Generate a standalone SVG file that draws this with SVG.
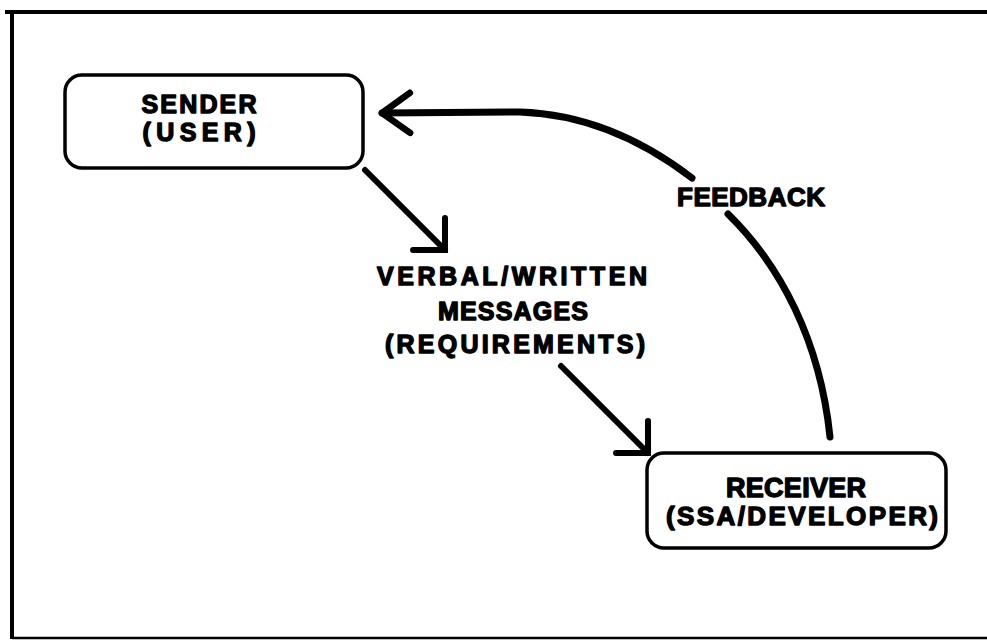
<svg xmlns="http://www.w3.org/2000/svg" width="987" height="641" viewBox="0 0 987 641">
<style>
.box{fill:#fff;stroke:#000;stroke-width:3.5}
.lbl{font-family:"Liberation Sans",Arial,sans-serif;font-weight:bold;fill:#000;stroke:#000;stroke-width:1.4;stroke-linejoin:round;text-anchor:middle}
.con{fill:none;stroke:#000;stroke-linecap:round;stroke-linejoin:round}
</style>
<defs>
<marker id="headDiag" markerUnits="userSpaceOnUse" markerWidth="60" markerHeight="60" refX="0" refY="0" orient="auto" overflow="visible">
<path d="M -22.6 -22.6 L 0 0 L -22.6 22.6" fill="none" stroke="#000" stroke-width="6" stroke-linecap="round" stroke-linejoin="miter"/>
</marker>
<marker id="headFb" markerUnits="userSpaceOnUse" markerWidth="60" markerHeight="60" refX="0" refY="0" orient="auto" overflow="visible">
<path d="M -28 -20 L 0 0 L -28 20" fill="none" stroke="#000" stroke-width="6.5" stroke-linecap="round" stroke-linejoin="round"/>
</marker>
</defs>
<g id="frame" fill="none" stroke="#000">
<path d="M 5 12 H 987" stroke-width="4"/>
<path d="M 12 12 V 639" stroke-width="4"/>
<path d="M 12 638 H 987" stroke-width="2.5"/>
</g>
<g id="sender">
<rect class="box" x="65" y="75" width="298" height="93" rx="17"/>
<text class="lbl" x="199" y="113" font-size="25" textLength="115" lengthAdjust="spacing">SENDER</text>
<text class="lbl" x="199" y="141" font-size="25" textLength="113" lengthAdjust="spacing">(USER)</text>
</g>
<g id="receiver">
<rect class="box" x="647" y="453" width="299" height="95" rx="17"/>
<text class="lbl" x="796" y="497" font-size="27" textLength="140" lengthAdjust="spacing">RECEIVER</text>
<text class="lbl" x="802" y="525" font-size="26" textLength="272" lengthAdjust="spacing">(SSA/DEVELOPER)</text>
</g>
<g id="messages">
<text class="lbl" x="512" y="285" font-size="25" textLength="270" lengthAdjust="spacing">VERBAL/WRITTEN</text>
<text class="lbl" x="513" y="320" font-size="25" textLength="150" lengthAdjust="spacing">MESSAGES</text>
<text class="lbl" x="515" y="353" font-size="25" textLength="260" lengthAdjust="spacing">(REQUIREMENTS)</text>
</g>
<g id="feedback-label">
<text class="lbl" x="751" y="206" font-size="26" textLength="148" lengthAdjust="spacing">FEEDBACK</text>
</g>
<g id="connectors">
<path class="con" d="M 365 170 L 445 250" stroke-width="6" marker-end="url(#headDiag)"/>
<path class="con" d="M 561 366 L 648 453" stroke-width="6" marker-end="url(#headDiag)"/>
<path class="con" d="M 692 178 Q 610 115 520 112 L 382 113" stroke-width="7" marker-end="url(#headFb)"/>
<path class="con" d="M 728 214 C 780 265 820 340 830 437" stroke-width="7"/>
</g>
</svg>
